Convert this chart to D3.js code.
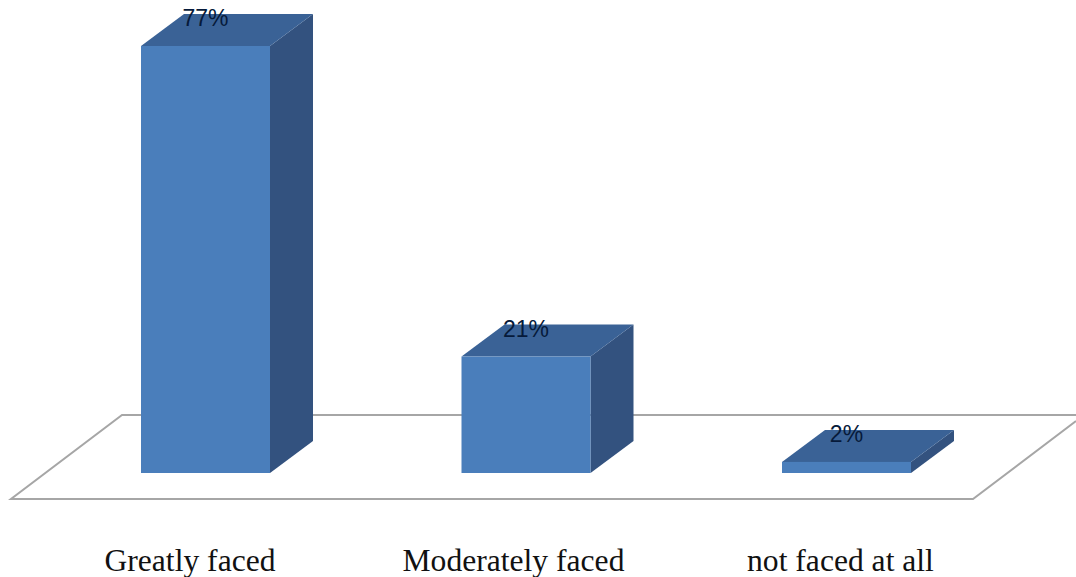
<!DOCTYPE html>
<html>
<head>
<meta charset="utf-8">
<script src="https://cdn.jsdelivr.net/npm/d3@7/dist/d3.min.js"></script>
<style>
  html, body { margin: 0; padding: 0; background: #fff; }
  svg { display: block; }
</style>
</head>
<body>
<svg id="chart" width="1076" height="577"></svg>
<script>
const categories = ["Greatly faced", "Moderately faced", "not faced at all"];
const percents = [77, 21, 2];
// Horizontal shift of each category label from its bar's centre
const labelShift = [-15.5, -12.5, -6];

const svg = d3.select("#chart");
const depthX = 43, depthY = -32;
const baseY = 473;

const x = d3.scaleBand().domain(categories).range([141, 911]).paddingInner(0.5975).paddingOuter(0);
const y = d3.scaleLinear().domain([0, 77]).range([baseY, 46]);

// Floor of the 3D plot, a parallelogram running off the right edge
const floorFront = { y: 499, x0: 11, x1: 973 };
const floorBack = { y: 415, x0: 122, x1: 1076 };
const floor = svg.append("g").attr("fill", "none").attr("stroke", "#a6a6a6").attr("stroke-width", 2);
floor.append("path").attr("d", d3.line()([
  [1076, floorBack.y], [floorBack.x0, floorBack.y], [floorFront.x0, floorFront.y],
  [floorFront.x1, floorFront.y], [1076, 421]
]));

const polygon = pts => "M" + pts.map(p => p.join(",")).join("L") + "Z";

const bars = svg.append("g").selectAll("g")
  .data(categories.map((c, i) => ({ c, v: percents[i] })))
  .join("g");

// Right side face
bars.append("path").attr("fill", "#33527f").attr("d", d => {
  const r = x(d.c) + x.bandwidth(), t = y(d.v);
  return polygon([[r, t], [r + depthX, t + depthY], [r + depthX, baseY + depthY], [r, baseY]]);
});
// Top face
bars.append("path").attr("fill", "#3a6296").attr("d", d => {
  const l = x(d.c), r = l + x.bandwidth(), t = y(d.v);
  return polygon([[l, t], [l + depthX, t + depthY], [r + depthX, t + depthY], [r, t]]);
});
// Front face
bars.append("rect").attr("fill", "#4a7ebb")
  .attr("x", d => x(d.c)).attr("y", d => y(d.v))
  .attr("width", x.bandwidth()).attr("height", d => baseY - y(d.v));

// Value labels sit across the top face
bars.append("text")
  .attr("x", d => x(d.c) + x.bandwidth() / 2)
  .attr("y", d => y(d.v) - 20)
  .attr("text-anchor", "middle")
  .attr("font-family", "Liberation Sans")
  .attr("font-size", 23)
  .attr("fill", "#061a3a")
  .text(d => d.v + "%");

// Category labels under the floor
svg.append("g").selectAll("text").data(categories).join("text")
  .attr("x", (d, i) => x(d) + x.bandwidth() / 2 + labelShift[i])
  .attr("y", 571)
  .attr("text-anchor", "middle")
  .attr("font-family", "Liberation Serif")
  .attr("font-size", 31.6)
  .attr("fill", "#111")
  .text(d => d);
</script>
</body>
</html>
